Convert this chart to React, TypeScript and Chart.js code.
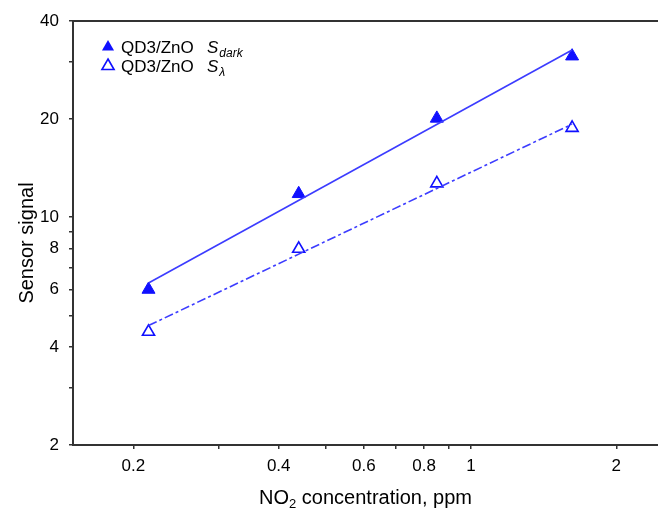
import React, { useEffect, useRef } from "react";
import { Chart, registerables } from "chart.js";

Chart.register(...registerables);

// ---- data ----
const concentrations = [0.215, 0.44, 0.85, 1.62];
const sDark = [6.0, 11.8, 20.1, 31.2];
const sLambda = [4.45, 8.0, 12.7, 18.8];
const fitX = [0.215, 1.62];
const fitDark = [6.28, 32.6];
const fitLambda = [4.65, 19.3];

const xTickValues = [0.2, 0.3, 0.4, 0.5, 0.6, 0.7, 0.8, 0.9, 1, 2];
const xTickLabels = ["0.2", "", "0.4", "", "0.6", "", "0.8", "", "1", "2"];
const yTickValues = [2, 3, 4, 5, 6, 7, 8, 9, 10, 20, 30, 40];
const yTickLabels = ["2", "", "4", "", "6", "", "8", "", "10", "20", "", "40"];

const FONT = 'Arial, "Liberation Sans", Helvetica, sans-serif';
const BLUE = "#1010ff";
const LINE_BLUE = "rgb(60,60,255)";
const AXIS = "#333333";

const decorPlugin = {
  id: "decor",
  afterDraw(chart: any) {
    const ctx = chart.ctx as CanvasRenderingContext2D;
    const a = chart.chartArea;
    ctx.save();
    // top frame line
    ctx.strokeStyle = AXIS;
    ctx.lineWidth = 2;
    ctx.beginPath();
    ctx.moveTo(a.left - 1, a.top);
    ctx.lineTo(a.right, a.top);
    ctx.stroke();

    // legend
    const tri = (cx: number, cy: number, filled: boolean) => {
      const r = 7;
      ctx.beginPath();
      ctx.moveTo(cx, cy - r);
      ctx.lineTo(cx + r * 0.866, cy + r * 0.5);
      ctx.lineTo(cx - r * 0.866, cy + r * 0.5);
      ctx.closePath();
      if (filled) {
        ctx.fillStyle = BLUE;
        ctx.fill();
      } else {
        ctx.fillStyle = "#fff";
        ctx.fill();
        ctx.strokeStyle = BLUE;
        ctx.lineWidth = 1.6;
        ctx.stroke();
      }
    };
    const rows = [
      { y: 53, filled: true, sub: "dark" },
      { y: 72, filled: false, sub: "\u03bb" },
    ];
    ctx.textBaseline = "alphabetic";
    ctx.textAlign = "left";
    for (const r of rows) {
      tri(108, r.y - 6, r.filled);
      ctx.fillStyle = "#000";
      ctx.font = `17px ${FONT}`;
      ctx.fillText("QD3/ZnO", 121, r.y);
      ctx.font = `italic 17px ${FONT}`;
      ctx.fillText("S", 207, r.y);
      const sw = ctx.measureText("S").width;
      ctx.font = `italic 12px ${FONT}`;
      ctx.fillText(r.sub, 207 + sw + 1, r.y + 4);
    }

    // x axis title with subscript
    ctx.fillStyle = "#000";
    ctx.font = `20px ${FONT}`;
    const p1 = "NO";
    const p3 = " concentration, ppm";
    const w1 = ctx.measureText(p1).width;
    const w3 = ctx.measureText(p3).width;
    ctx.font = `13px ${FONT}`;
    const w2 = ctx.measureText("2").width;
    const total = w1 + w2 + w3;
    const cx = (a.left + a.right) / 2;
    let x = cx - total / 2;
    const by = 504;
    ctx.font = `20px ${FONT}`;
    ctx.fillText(p1, x, by);
    x += w1;
    ctx.font = `13px ${FONT}`;
    ctx.fillText("2", x, by + 4);
    x += w2;
    ctx.font = `20px ${FONT}`;
    ctx.fillText(p3, x, by);

    // y axis title
    ctx.save();
    ctx.translate(33, 243);
    ctx.rotate(-Math.PI / 2);
    ctx.textAlign = "center";
    ctx.font = `20px ${FONT}`;
    ctx.fillText("Sensor signal", 0, 0);
    ctx.restore();

    ctx.restore();
  },
};

export default function App() {
  const ref = useRef<HTMLCanvasElement | null>(null);

  useEffect(() => {
    document.body.style.margin = "0";
    const canvas = ref.current;
    if (!canvas) return;
    const chart = new Chart(canvas, {
      type: "scatter",
      data: {
        datasets: [
          {
            type: "line",
            label: "fit dark",
            data: fitX.map((x, i) => ({ x, y: fitDark[i] })),
            borderColor: LINE_BLUE,
            borderWidth: 1.6,
            pointRadius: 0,
            fill: false,
          },
          {
            type: "line",
            label: "fit lambda",
            data: fitX.map((x, i) => ({ x, y: fitLambda[i] })),
            borderColor: LINE_BLUE,
            borderWidth: 1.6,
            borderDash: [9, 3, 3, 3],
            pointRadius: 0,
            fill: false,
          },
          {
            label: "QD3/ZnO S dark",
            data: concentrations.map((x, i) => ({ x, y: sDark[i] })),
            pointStyle: "triangle",
            pointRadius: 7.5,
            backgroundColor: BLUE,
            borderColor: BLUE,
            borderWidth: 1,
          },
          {
            label: "QD3/ZnO S lambda",
            data: concentrations.map((x, i) => ({ x, y: sLambda[i] })),
            pointStyle: "triangle",
            pointRadius: 7,
            backgroundColor: "#ffffff",
            borderColor: BLUE,
            borderWidth: 1.6,
          },
        ],
      },
      options: {
        animation: false,
        responsive: false,
        maintainAspectRatio: false,
        layout: { autoPadding: false, padding: { top: 21, left: 0, right: 0, bottom: 0 } },
        plugins: {
          legend: { display: false },
          tooltip: { enabled: false },
          title: { display: false },
        },
        scales: {
          x: {
            type: "logarithmic",
            min: 0.15,
            max: 2.44,
            afterBuildTicks: (s: any) => {
              s.ticks = xTickValues.map((v) => ({ value: v }));
            },
            afterFit: (s: any) => {
              s.height = 66;
            },
            ticks: {
              autoSkip: false,
              maxRotation: 0,
              padding: 7,
              color: "#000",
              font: { family: FONT, size: 17 },
              callback: (_v: any, i: number) => xTickLabels[i],
            },
            grid: {
              drawOnChartArea: false,
              drawTicks: true,
              tickLength: 4,
              color: AXIS,
              lineWidth: 1.5,
            },
            border: { display: true, color: AXIS, width: 2 },
          },
          y: {
            type: "logarithmic",
            min: 2,
            max: 40,
            afterBuildTicks: (s: any) => {
              s.ticks = yTickValues.map((v) => ({ value: v }));
            },
            afterFit: (s: any) => {
              s.width = 73;
            },
            ticks: {
              autoSkip: false,
              padding: 10,
              color: "#000",
              font: { family: FONT, size: 17 },
              callback: (_v: any, i: number) => yTickLabels[i],
            },
            grid: {
              drawOnChartArea: false,
              drawTicks: true,
              tickLength: 4,
              color: AXIS,
              lineWidth: 1.5,
            },
            border: { display: true, color: AXIS, width: 2 },
          },
        },
      },
      plugins: [decorPlugin],
    } as any);
    return () => chart.destroy();
  }, []);

  return (
    <div style={{ position: "fixed", left: 0, top: 0, width: 658, height: 511, background: "#fff" }}>
      <canvas ref={ref} width={658} height={511} style={{ width: 658, height: 511, display: "block" }} />
    </div>
  );
}
